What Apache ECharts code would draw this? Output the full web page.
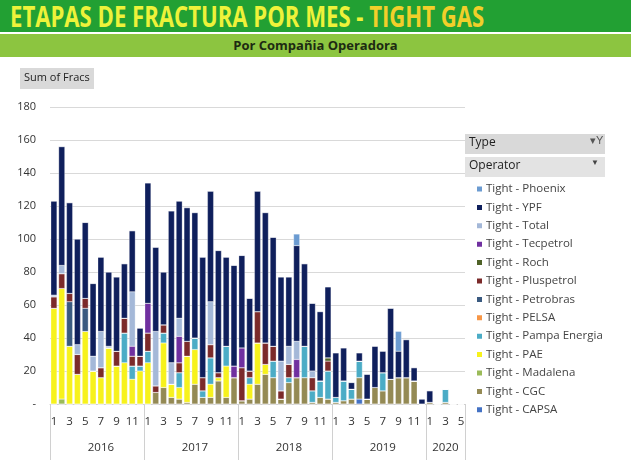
<!DOCTYPE html>
<html>
<head>
<meta charset="utf-8">
<script src="https://cdn.jsdelivr.net/npm/echarts@6/dist/echarts.min.js"></script>
<style>
  body { margin: 0; background: #fff; font-family: 'Open Sans', sans-serif; }
  #title { height: 32px; background: #22a033; color: #eef23a; font-size: 28px; font-weight: bold; line-height: 32px; padding-left: 10px; overflow: hidden; white-space: nowrap; }
  #title div { display: inline-block; transform: scaleX(0.79); transform-origin: left center; }
  #title span { color: #f2cf2a; }
  #sub { margin-top: 2px; height: 23px; background: #8cc540; text-align: center; font-size: 13px; font-weight: bold; line-height: 23px; color: #1d2a12; }
  #chart { position: absolute; left: 0; top: 58px; width: 631px; height: 402px; }
</style>
</head>
<body>
<div id="title"><div>ETAPAS DE FRACTURA POR MES - <span>TIGHT GAS</span></div></div>
<div id="sub">Por Compañia Operadora</div>
<div id="chart"></div>
<script>
// meses por año (2020 solo hasta mayo)
const years = ['2016', '2017', '2018', '2019', '2020'];
const monthsPerYear = [12, 12, 12, 12, 5];

// series, de abajo hacia arriba en la pila
const operators = ['Tight - CAPSA', 'Tight - CGC', 'Tight - Madalena', 'Tight - PAE', 'Tight - Pampa Energia',
  'Tight - PELSA', 'Tight - Petrobras', 'Tight - Pluspetrol', 'Tight - Roch', 'Tight - Tecpetrol',
  'Tight - Total', 'Tight - YPF', 'Tight - Phoenix'];
const colors = ['#4472c4', '#948a54', '#9bbb59', '#f7f21c', '#4bacc6', '#f79646', '#3a5a80',
  '#7b2a2a', '#4f6228', '#7030a0', '#a4b8d8', '#0f1f5c', '#6b9bd1'];

const capsa = [0,0,0,0,0,0,0,0,0,0,0,0, 0,0,0,0,0,0,0,0,0,0,0,0, 0,0,0,0,0,0,0,0,0,0,0,0, 0,0,0,3,0,0,0,0,0,0,0,0, 0,0,0,0,0];
const cgc = [0,0,0,0,0,0,0,0,0,0,0,0, 0,7,10,4,3,1,12,4,4,14,4,16, 2,3,12,18,16,3,13,16,16,1,4,3, 1,2,3,13,3,10,8,15,16,16,14,0, 1,0,1,0,0];
const madalena = [0,3,0,0,0,0,0,0,0,0,0,0, 0,0,0,0,0,0,0,0,0,0,0,0, 0,0,0,0,0,0,0,0,0,0,0,0, 0,0,0,0,0,0,0,0,0,0,0,0, 0,0,0,0,0];
const pae = [58,67,35,18,44,20,16,34,23,25,15,20, 25,0,27,8,7,28,21,0,8,2,19,0, 0,9,25,6,0,0,0,0,0,0,0,0, 0,0,0,0,0,0,0,0,0,0,0,0, 0,0,0,0,0];
const pampa = [0,0,0,0,0,0,0,0,0,18,8,3, 7,0,6,0,9,0,7,4,16,0,12,0, 0,4,0,0,10,0,3,0,19,7,10,17, 3,12,6,10,0,0,11,0,0,0,0,0, 0,0,8,0,0];
const pelsa = [0,0,0,0,0,0,0,0,0,0,0,0, 0,0,0,0,0,0,0,0,0,0,0,0, 0,0,0,0,0,0,0,0,0,0,0,0, 0,0,0,0,0,0,0,0,0,0,0,0, 0,0,0,0,0];
const petrobras = [0,0,27,0,14,0,0,0,0,0,0,0, 0,0,0,0,0,0,0,0,0,0,0,0, 0,0,0,0,0,0,0,0,0,0,0,0, 0,0,0,0,0,0,0,0,0,0,0,0, 0,0,0,0,0];
const pluspetrol = [7,9,5,12,6,0,6,0,9,9,6,6, 11,4,5,0,6,9,0,8,8,3,0,0, 20,4,19,13,9,5,8,0,0,8,0,6, 0,0,0,0,0,0,0,0,0,0,0,0, 0,0,0,0,0];
const roch = [0,0,0,0,0,0,0,0,0,0,0,0, 0,0,0,0,0,0,0,0,0,0,0,0, 0,0,0,0,0,0,0,0,0,0,0,2, 0,0,0,0,0,0,0,0,0,0,0,0, 0,0,0,0,0];
const tecpetrol = [0,0,0,0,0,0,0,0,0,0,6,0, 18,0,0,0,16,0,0,0,0,0,0,7, 12,0,0,0,0,0,0,11,0,0,0,0, 0,0,0,0,0,0,0,0,0,0,0,0, 0,0,0,0,0];
const total = [1,5,0,6,0,9,22,1,0,0,33,0, 0,33,0,13,11,0,0,0,26,0,0,0, 0,0,0,0,0,18,11,11,0,4,0,0, 0,0,0,0,0,0,0,0,0,0,0,0, 0,0,0,0,0];
const ypf = [57,72,55,64,46,44,45,45,45,33,37,17, 73,51,32,92,71,81,76,73,67,74,54,61, 56,44,73,79,66,51,42,58,50,41,42,43, 27,20,4,5,15,25,13,43,16,23,8,3, 7,0,0,0,0];
const phoenix = [0,0,0,0,0,0,0,0,0,0,0,0, 0,0,0,0,0,0,0,0,0,0,0,0, 0,0,0,0,0,0,0,7,0,0,0,0, 0,0,0,0,0,0,0,0,12,0,0,0, 0,0,0,0,0];

const seriesData = [capsa, cgc, madalena, pae, pampa, pelsa, petrobras, pluspetrol, roch, tecpetrol, total, ypf, phoenix];

// categorías mes/año
const monthLabels = [];
const yearLabels = [];
years.forEach((y, i) => {
    for (let m = 1; m <= monthsPerYear[i]; m++) {
        monthLabels.push(String(m));
        yearLabels.push(y);
    }
});
// índice central de cada año para su etiqueta
const yearMid = {};
let start = 0;
years.forEach((y, i) => {
    yearMid[start + Math.floor(monthsPerYear[i] / 2)] = true;
    start += monthsPerYear[i];
});

const chart = echarts.init(document.getElementById('chart'));
const axisColor = '#d0d0d0';

chart.setOption({
    animation: false,
    textStyle: { fontFamily: 'Open Sans' },
    grid: { left: 50, right: 166, top: 49, bottom: 56 },
    graphic: [
        { type: 'rect', left: 20, top: 10, shape: { width: 74, height: 21 }, style: { fill: '#d9d9d9' } },
        { type: 'text', left: 24, top: 14, style: { text: 'Sum of Fracs', fontSize: 11, fill: '#222', fontFamily: 'Open Sans' } },
        { type: 'rect', left: 465, top: 76, shape: { width: 140, height: 20 }, style: { fill: '#d9d9d9' } },
        { type: 'text', left: 469, top: 79, style: { text: 'Type', fontSize: 12, fill: '#222', fontFamily: 'Open Sans' } },
        { type: 'text', left: 590, top: 77, style: { text: '▾Y', fontSize: 11, fill: '#555' } },
        { type: 'rect', left: 465, top: 99, shape: { width: 140, height: 20 }, style: { fill: '#e3e3e3' } },
        { type: 'text', left: 469, top: 102, style: { text: 'Operator', fontSize: 12, fill: '#222', fontFamily: 'Open Sans' } },
        { type: 'text', left: 591, top: 101, style: { text: '▼', fontSize: 8, fill: '#444' } }
    ],
    legend: {
        orient: 'vertical',
        left: 470,
        top: 120,
        itemWidth: 7,
        itemHeight: 7,
        itemGap: 6.4,
        icon: 'rect',
        textStyle: { fontSize: 11.5, color: '#444', padding: [0, 0, 0, -2] },
        data: operators.slice().reverse()
    },
    xAxis: [
        {
            type: 'category',
            data: monthLabels,
            axisLine: { lineStyle: { color: axisColor } },
            axisTick: { show: false },
            axisLabel: {
                interval: (i) => Number(monthLabels[i]) % 2 === 1,
                color: '#333', fontSize: 11.5, margin: 12
            }
        },
        {
            type: 'category',
            data: yearLabels,
            position: 'bottom',
            axisLine: { show: false },
            axisTick: {
                show: true, length: 56, inside: false,
                interval: (i) => monthLabels[i] === '1' || i === 0,
                lineStyle: { color: axisColor }
            },
            axisLabel: {
                interval: (i) => !!yearMid[i],
                color: '#333', fontSize: 11.5, margin: 38
            }
        }
    ],
    yAxis: {
        type: 'value',
        min: 0,
        max: 180,
        interval: 20,
        axisLine: { show: false },
        axisTick: { show: false },
        axisLabel: { color: '#333', fontSize: 11, formatter: v => v === 0 ? '-' : v, margin: 14 },
        splitLine: { lineStyle: { color: '#d9d9d9' } }
    },
    series: operators.map((name, i) => ({
        name: name,
        type: 'bar',
        stack: 'fracs',
        barCategoryGap: '22%',
        itemStyle: { color: colors[i], borderColor: '#fff', borderWidth: 0.3 },
        data: seriesData[i]
    }))
});
</script>
</body>
</html>
